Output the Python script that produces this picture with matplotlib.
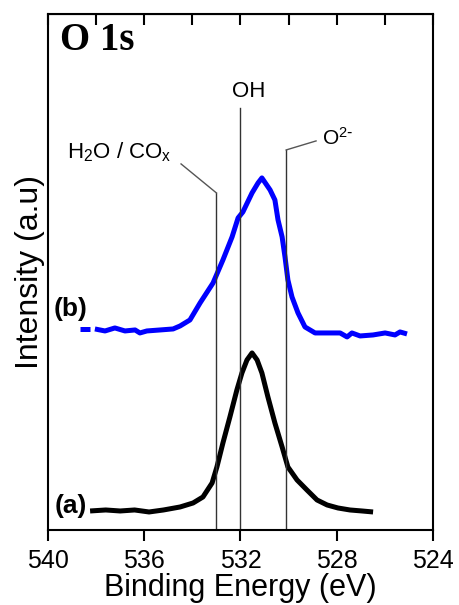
import matplotlib
matplotlib.use("Agg")
import matplotlib.pyplot as plt

plt.rcParams["font.family"] = ["Liberation Sans", "DejaVu Sans"]
plt.rcParams["mathtext.default"] = "regular"

# O 1s XPS spectra (intensity in arbitrary units)
# (a) black spectrum
be_a = [538.25, 537.6, 537.0, 536.4, 535.8, 535.2, 534.51, 533.97, 533.56,
        533.18, 532.98, 532.73, 532.44, 532.15, 531.94, 531.73, 531.52,
        531.31, 531.11, 530.86, 530.57, 530.27, 530.03, 529.65, 529.24,
        528.82, 528.40, 527.95, 527.45, 526.95, 526.49]
int_a = [19, 20, 19, 20, 18, 20, 23, 27, 33, 47, 63, 87, 113, 140, 157, 170,
         177, 170, 157, 133, 107, 83, 63, 50, 40, 30, 25, 22, 20, 19, 18]

# (b) blue spectrum (first short dash drawn separately)
be_b_dash = [538.67, 538.25]
int_b_dash = [201, 201]
be_b = [538.05, 537.63, 537.22, 536.80, 536.38, 536.18, 535.89, 535.34,
        534.80, 534.51, 534.10, 533.68, 533.14, 532.73, 532.35, 532.10,
        531.90, 531.52, 531.27, 531.11, 530.77, 530.57, 530.44, 530.27,
        530.15, 530.03, 529.86, 529.61, 529.32, 528.90, 528.49, 527.86,
        527.57, 527.37, 527.03, 526.49, 525.99, 525.58, 525.37, 525.08]
int_b = [201, 199, 202, 199, 200, 197, 199, 200, 201, 204, 210, 227, 247,
         270, 293, 312, 318, 337, 347, 352, 340, 330, 310, 293, 273, 250,
         233, 217, 203, 197, 197, 197, 193, 197, 194, 195, 197, 195, 198, 196]

# component positions (eV) and their labels
comp_be = [533.0, 532.0, 530.1]
comp_top = [337, 422, 380]
comp_labels = [r"H$_2$O / CO$_x$", "OH", r"O$^{2\text{-}}$"]

fig = plt.figure(figsize=(4.6, 6.05), dpi=100)
ax = fig.add_axes([0.1043, 0.124, 0.837, 0.853])

ax.plot(be_a, int_a, color="black", lw=3.6, solid_capstyle="butt",
        solid_joinstyle="round")
ax.plot(be_b_dash, int_b_dash, color="#0000ff", lw=3.6, solid_capstyle="butt")
ax.plot(be_b, int_b, color="#0000ff", lw=3.6, solid_capstyle="butt",
        solid_joinstyle="round")

# vertical component markers with leader lines
for be, top in zip(comp_be, comp_top):
    ax.plot([be, be], [0, top], color="#333333", lw=1.0)
ax.plot([533.0, 534.47], [337, 366], color="#555555", lw=1.0)
ax.plot([530.1, 528.86], [380, 389], color="#555555", lw=1.0)

ax.text(537.05, 372, comp_labels[0], fontsize=16, ha="center", va="baseline")
ax.text(531.65, 433, comp_labels[1], fontsize=16, ha="center", va="baseline")
ax.text(528.61, 385, comp_labels[2], fontsize=15, ha="left", va="baseline")

ax.text(538.34, 221, "(b)", fontsize=19, fontweight="bold", ha="right", va="center")
ax.text(538.38, 24, "(a)", fontsize=19, fontweight="bold", ha="right", va="center")
ax.text(539.5, 508, "O 1s", fontsize=28, fontweight="bold",
        family=["Liberation Serif", "DejaVu Serif"], ha="left", va="top")

ax.set_xlim(540, 524)
ax.set_ylim(0, 516)
ax.set_xticks([540, 536, 532, 528, 524])
ax.set_yticks([])
ax.tick_params(axis="x", which="both", direction="out", length=8, width=1.5,
               labelsize=18, pad=6, top=True)
ax.secondary_xaxis("top").tick_params(direction="in", length=8, width=1.5,
                                      labeltop=False)
ax.xaxis.set_ticks_position("bottom")
for sp in ax.spines.values():
    sp.set_linewidth(1.5)

ax.set_xlabel("Binding Energy (eV)", fontsize=22, labelpad=0)
ax.set_ylabel("Intensity (a.u)", fontsize=23, labelpad=2)

fig.savefig("out.png", dpi=100)
